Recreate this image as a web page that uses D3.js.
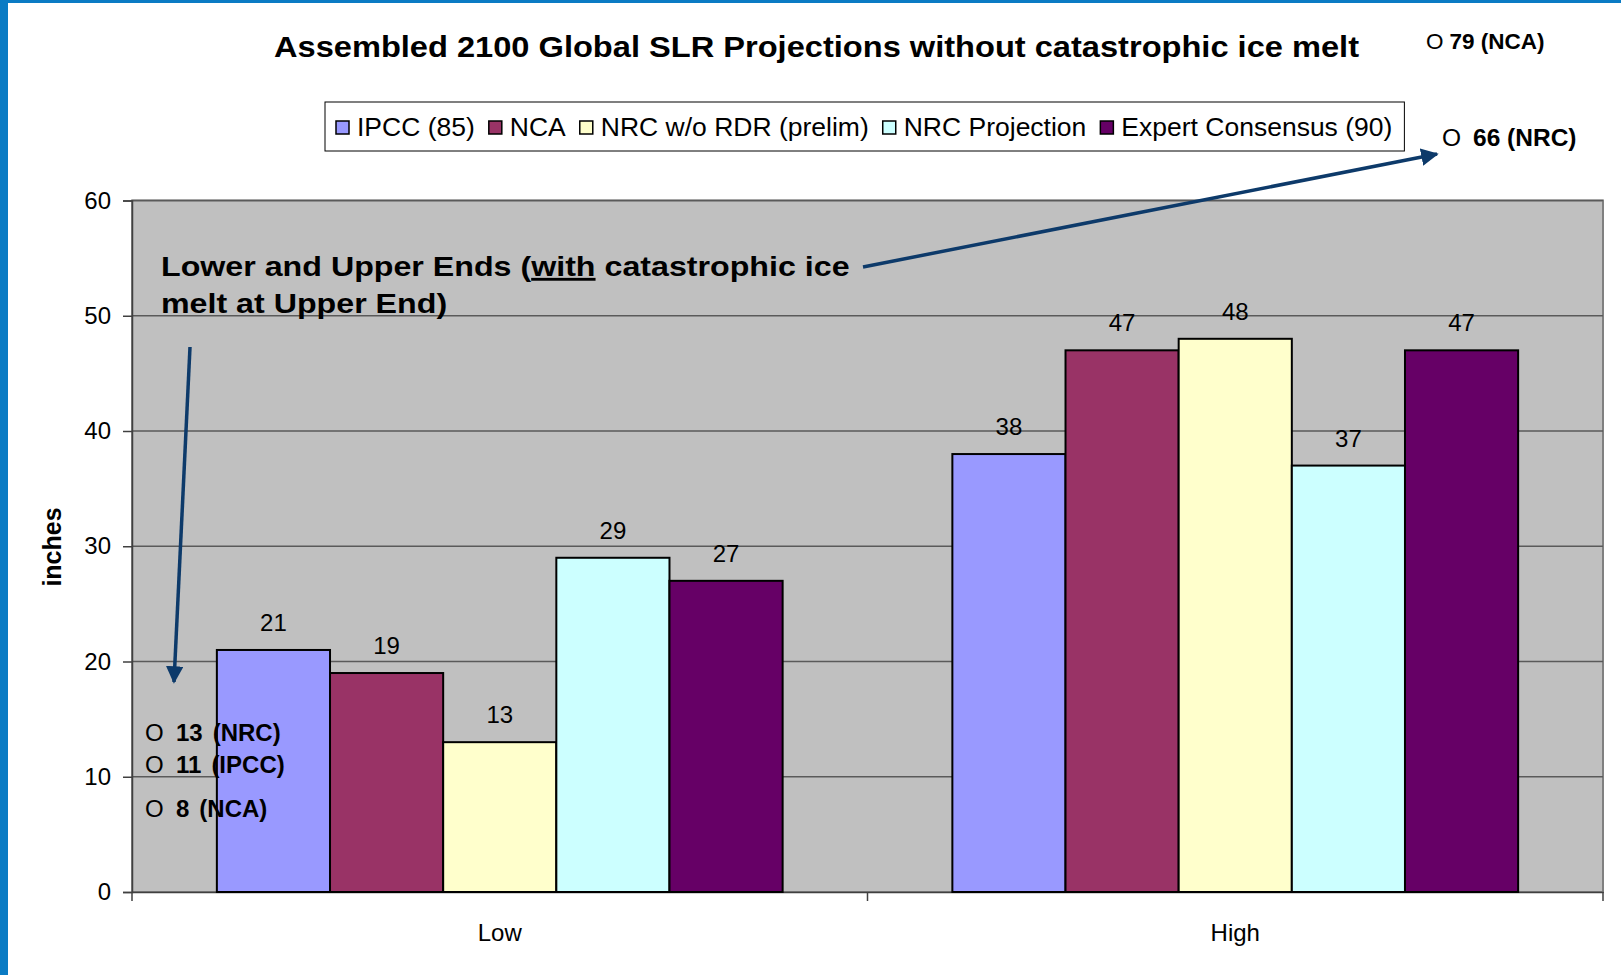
<!DOCTYPE html>
<html>
<head>
<meta charset="utf-8">
<script src="https://cdn.jsdelivr.net/npm/d3@7"></script>
<style>
  html, body { margin: 0; padding: 0; background: #fff; }
  svg { display: block; font-family: "Liberation Sans", Arial, sans-serif; }
</style>
</head>
<body>
<div id="chart"></div>
<script>
const categories = ["Low", "High"];
const seriesNames = ["IPCC (85)", "NCA", "NRC w/o RDR (prelim)", "NRC Projection", "Expert Consensus (90)"];
const lowValues = [21, 19, 13, 29, 27];
const highValues = [38, 47, 48, 37, 47];
const seriesColors = ["#9999ff", "#993366", "#ffffcc", "#ccffff", "#660066"];
const yTicks = [0, 10, 20, 30, 40, 50, 60];

// lower end values (with catastrophic ice melt), shown beside the Low group
const lowerEndValues = [13, 11, 8];
const lowerEndSources = ["(NRC)", "(IPCC)", "(NCA)"];
// upper end values, shown off the top right of the chart
const upperEndValues = [79, 66];
const upperEndSources = ["(NCA)", "(NRC)"];

function renderChart() {
  const width = 1621, height = 975;
  const plot = { left: 132, right: 1603, top: 200.5, bottom: 892 };

  const svg = d3.select("#chart").append("svg")
    .attr("width", width)
    .attr("height", height);

  // blue slide frame
  svg.append("rect").attr("x", 0).attr("y", 0).attr("width", width).attr("height", 3).attr("fill", "#0a7bc4");
  svg.append("rect").attr("x", 0).attr("y", 0).attr("width", 8).attr("height", height).attr("fill", "#0a7bc4");

  const x = d3.scaleBand()
    .domain(categories)
    .range([plot.left, plot.right]);

  // Excel style gap width of 150%
  const xSeries = d3.scaleBand()
    .domain(seriesNames)
    .range([0, x.bandwidth()])
    .paddingOuter(0.75);

  const y = d3.scaleLinear()
    .domain([0, 60])
    .range([plot.bottom, plot.top]);

  // plot area
  svg.append("rect")
    .attr("x", plot.left).attr("y", plot.top)
    .attr("width", plot.right - plot.left).attr("height", plot.bottom - plot.top)
    .attr("fill", "#c0c0c0")
    .attr("stroke", "#808080")
    .attr("stroke-width", 2);

  svg.append("g")
    .selectAll("line")
    .data(yTicks.filter(t => t > 0))
    .join("line")
    .attr("x1", plot.left).attr("x2", plot.right)
    .attr("y1", d => y(d)).attr("y2", d => y(d))
    .attr("stroke", "#5a5a5a")
    .attr("stroke-width", 1.5);

  // y axis
  const yAxis = svg.append("g")
    .attr("transform", `translate(${plot.left},0)`)
    .call(d3.axisLeft(y).tickValues(yTicks).tickSize(9).tickPadding(12));
  yAxis.select(".domain").attr("stroke", "#404040").attr("stroke-width", 1.5);
  yAxis.selectAll(".tick line").attr("stroke", "#404040").attr("stroke-width", 1.5);
  yAxis.selectAll(".tick text")
    .attr("font-size", 24)
    .attr("font-family", "Liberation Sans, Arial, sans-serif")
    .attr("fill", "#000");

  // x axis
  const xAxis = svg.append("g")
    .attr("transform", `translate(0,${plot.bottom})`)
    .call(d3.axisBottom(x).tickSize(0).tickPadding(32));
  xAxis.select(".domain").attr("stroke", "#404040").attr("stroke-width", 1.5);
  xAxis.selectAll(".tick text")
    .attr("font-size", 24)
    .attr("font-family", "Liberation Sans, Arial, sans-serif")
    .attr("fill", "#000");
  svg.append("g")
    .selectAll("line")
    .data([plot.left, x("High"), plot.right])
    .join("line")
    .attr("x1", d => d).attr("x2", d => d)
    .attr("y1", plot.bottom).attr("y2", plot.bottom + 9)
    .attr("stroke", "#404040")
    .attr("stroke-width", 1.5);

  // bars
  const rows = [];
  categories.forEach((cat, ci) => {
    const vals = ci === 0 ? lowValues : highValues;
    seriesNames.forEach((s, si) => rows.push({ cat, series: s, value: vals[si], color: seriesColors[si] }));
  });

  svg.append("g")
    .selectAll("rect")
    .data(rows)
    .join("rect")
    .attr("x", d => x(d.cat) + xSeries(d.series))
    .attr("y", d => y(d.value))
    .attr("width", xSeries.bandwidth())
    .attr("height", d => y(0) - y(d.value))
    .attr("fill", d => d.color)
    .attr("stroke", "#000")
    .attr("stroke-width", 2);

  svg.append("g")
    .selectAll("text")
    .data(rows)
    .join("text")
    .attr("x", d => x(d.cat) + xSeries(d.series) + xSeries.bandwidth() / 2)
    .attr("y", d => y(d.value) - 19)
    .attr("text-anchor", "middle")
    .attr("font-size", 24)
    .text(d => d.value);

  // title (the original is drawn a little wide)
  svg.append("text")
    .attr("x", 274).attr("y", 57)
    .attr("font-size", 30)
    .attr("font-weight", "bold")
    .attr("textLength", 1085)
    .attr("lengthAdjust", "spacingAndGlyphs")
    .text("Assembled 2100 Global SLR Projections without catastrophic ice melt");

  // legend
  const legend = svg.append("g").attr("transform", "translate(325,102)");
  const legendBox = legend.append("rect")
    .attr("height", 49)
    .attr("fill", "#fff")
    .attr("stroke", "#000")
    .attr("stroke-width", 1);
  let lx = 11;
  seriesNames.forEach((name, i) => {
    legend.append("rect")
      .attr("x", lx).attr("y", 19)
      .attr("width", 13).attr("height", 13)
      .attr("fill", seriesColors[i])
      .attr("stroke", "#000")
      .attr("stroke-width", 1.5);
    const t = legend.append("text")
      .attr("x", lx + 21).attr("y", 34)
      .attr("font-size", 25)
      .text(name);
    const w = t.node().getComputedTextLength() * 1.06;
    t.attr("textLength", w).attr("lengthAdjust", "spacingAndGlyphs");
    lx += 21 + w + 14;
  });
  legendBox.attr("width", lx - 2);

  // y axis title
  svg.append("text")
    .attr("transform", "translate(61,547) rotate(-90)")
    .attr("text-anchor", "middle")
    .attr("font-size", 25)
    .attr("font-weight", "bold")
    .text("inches");

  // annotation text, stretched like the original
  const noteG = svg.append("g").attr("transform", "translate(161,0) scale(1.13,1)");
  const note = noteG.append("text")
    .attr("font-size", 28.5)
    .attr("font-weight", "bold");
  const line1 = note.append("tspan").attr("x", 0).attr("y", 276);
  line1.append("tspan").text("Lower and Upper Ends (");
  line1.append("tspan").attr("text-decoration", "underline").text("with");
  line1.append("tspan").text(" catastrophic ice");
  note.append("tspan").attr("x", 0).attr("y", 313).text("melt at Upper End)");

  // arrows
  const navy = "#0d3a6a";
  const defs = svg.append("defs");
  defs.append("marker")
    .attr("id", "head")
    .attr("viewBox", "0 0 10 10")
    .attr("refX", 9).attr("refY", 5)
    .attr("markerWidth", 5).attr("markerHeight", 5)
    .attr("markerUnits", "strokeWidth")
    .attr("orient", "auto")
    .append("path")
    .attr("d", "M0,0 L10,5 L0,10 Z")
    .attr("fill", navy);

  const arrows = [
    [[863, 267], [1437, 154]],
    [[190, 347], [174, 682]]
  ];
  svg.append("g")
    .selectAll("line")
    .data(arrows)
    .join("line")
    .attr("x1", d => d[0][0]).attr("y1", d => d[0][1])
    .attr("x2", d => d[1][0]).attr("y2", d => d[1][1])
    .attr("stroke", navy)
    .attr("stroke-width", 3.5)
    .attr("marker-end", "url(#head)");

  // lower end labels (spread apart a little, as in the original)
  const nudge = [-9, 0, 9];
  const lowNotes = svg.append("g")
    .selectAll("text")
    .data(lowerEndValues.map((v, i) => ({ v, src: lowerEndSources[i], i })))
    .join("text")
    .attr("x", 145)
    .attr("y", d => y(d.v) + 8 + nudge[d.i])
    .attr("font-size", 24);
  lowNotes.append("tspan").text("O");
  lowNotes.append("tspan").attr("x", 176).attr("font-weight", "bold").text(d => d.v);
  lowNotes.append("tspan").attr("dx", 10).attr("font-weight", "bold").text(d => d.src);

  // upper end labels
  const upPos = [[1426, 49, 22.5], [1442, 146, 24.5]];
  upperEndValues.forEach((v, i) => {
    const t = svg.append("text")
      .attr("x", upPos[i][0]).attr("y", upPos[i][1])
      .attr("font-size", upPos[i][2]);
    t.append("tspan").text("O");
    t.append("tspan").attr("dx", i === 1 ? 12 : 6).attr("font-weight", "bold").text(v + " " + upperEndSources[i]);
  });
}

renderChart();
</script>
</body>
</html>
